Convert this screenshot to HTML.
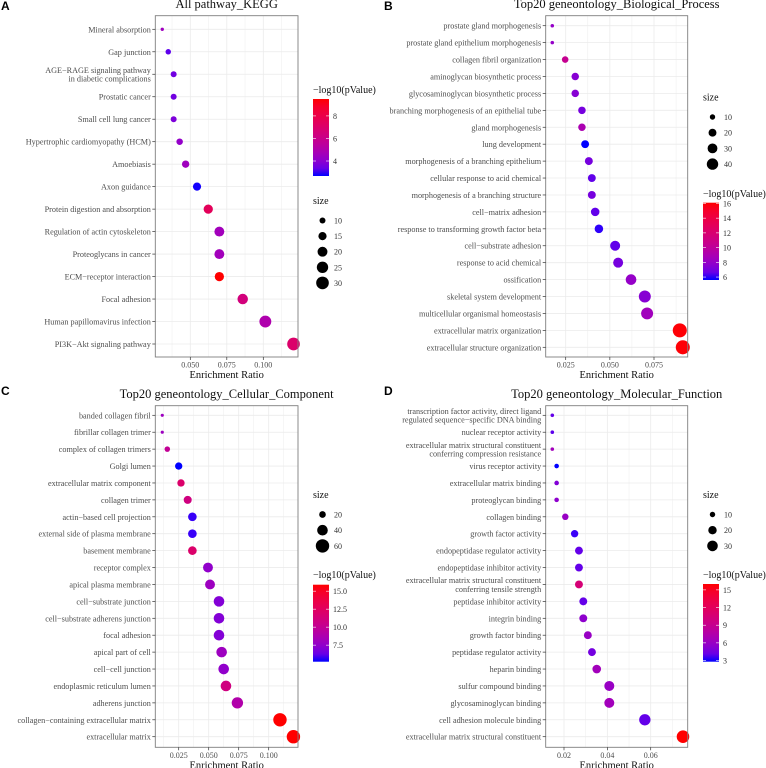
<!DOCTYPE html>
<html><head><meta charset="utf-8"><style>
html,body{margin:0;padding:0;background:#fff;}
svg{display:block;font-family:"Liberation Serif",serif;}
</style></head><body>
<svg id="fig" width="766" height="768" viewBox="0 0 766 768" xmlns="http://www.w3.org/2000/svg"></svg>
<script>
// ---------- Panel A data ----------
const A_terms = ["Mineral absorption","Gap junction","AGE\u2212RAGE signaling pathway\nin diabetic complications","Prostatic cancer","Small cell lung cancer","Hypertrophic cardiomyopathy (HCM)","Amoebiasis","Axon guidance","Protein digestion and absorption","Regulation of actin cytoskeleton","Proteoglycans in cancer","ECM\u2212receptor interaction","Focal adhesion","Human papillomavirus infection","PI3K\u2212Akt signaling pathway"];
const A_ratio = [0.0308,0.0349,0.0386,0.0386,0.0386,0.0427,0.0468,0.0546,0.0623,0.0699,0.0699,0.0699,0.0859,0.1014,0.1207];
const A_size = [6,9,10,10,10,11,13,15,18,20,20,18,22,27,30];
const A_logp = [4.5,3.2,3.5,3.5,3.7,4.2,4.5,2.7,7.5,4.6,4.6,9.5,6.5,5.0,7.0];
const A_xticks = [0.05,0.075,0.1];
const A_xlabels = ["0.050","0.075","0.100"];
const A_sizeLegend = [10,15,20,25,30];
const A_colorTicks = [4,6,8];

// ---------- Panel B data ----------
const B_terms = ["prostate gland morphogenesis","prostate gland epithelium morphogenesis","collagen fibril organization","aminoglycan biosynthetic process","glycosaminoglycan biosynthetic process","branching morphogenesis of an epithelial tube","gland morphogenesis","lung development","morphogenesis of a branching epithelium","cellular response to acid chemical","morphogenesis of a branching structure","cell\u2212matrix adhesion","response to transforming growth factor beta","cell\u2212substrate adhesion","response to acid chemical","ossification","skeletal system development","multicellular organismal homeostasis","extracellular matrix organization","extracellular structure organization"];
const B_ratio = [0.0174,0.0174,0.0247,0.0304,0.0304,0.0342,0.0342,0.0360,0.0381,0.0398,0.0398,0.0417,0.0438,0.0530,0.0547,0.0620,0.0698,0.0711,0.0896,0.0913];
const B_size = [5,5,14,18,18,18,18,20,20,20,20,23,23,31,31,35,44,44,60,60];
const B_logp = [8,8,10.5,7.5,7.5,7,9,5.6,7,6.5,7,6.5,5.8,6.5,7,8,7.5,8.5,16,16];
const B_xticks = [0.025,0.05,0.075];
const B_xlabels = ["0.025","0.050","0.075"];
const B_sizeLegend = [10,20,30,40];
const B_colorTicks = [6,8,10,12,14,16];

// ---------- Panel C data ----------
const C_terms = ["banded collagen fibril","fibrillar collagen trimer","complex of collagen trimers","Golgi lumen","extracellular matrix component","collagen trimer","actin\u2212based cell projection","external side of plasma membrane","basement membrane","receptor complex","apical plasma membrane","cell\u2212substrate junction","cell\u2212substrate adherens junction","focal adhesion","apical part of cell","cell\u2212cell junction","endoplasmic reticulum lumen","adherens junction","collagen\u2212containing extracellular matrix","extracellular matrix"];
const C_ratio = [0.0113,0.0113,0.0155,0.025,0.0269,0.0325,0.0364,0.0364,0.0364,0.0494,0.0511,0.0586,0.0586,0.0586,0.0608,0.0625,0.0644,0.0739,0.1094,0.1206];
const C_size = [10,10,16,23,23,26,29,29,29,36,36,40,40,40,40,40,40,45,60,60];
const C_logp = [8,8,10,5.2,12,11,5.5,5.5,12,7.5,8,7,7,7,8,7.5,11,9,16,16];
const C_xticks = [0.025,0.05,0.075,0.1];
const C_xlabels = ["0.025","0.050","0.075","0.100"];
const C_sizeLegend = [20,40,60];
const C_colorTicks = [7.5,10,12.5,15];

// ---------- Panel D data ----------
const D_terms = ["transcription factor activity, direct ligand\nregulated sequence\u2212specific DNA binding","nuclear receptor activity","extracellular matrix structural constituent\nconferring compression resistance","virus receptor activity","extracellular matrix binding","proteoglycan binding","collagen binding","growth factor activity","endopeptidase regulator activity","endopeptidase inhibitor activity","extracellular matrix structural constituent\nconferring tensile strength","peptidase inhibitor activity","integrin binding","growth factor binding","peptidase regulator activity","heparin binding","sulfur compound binding","glycosaminoglycan binding","cell adhesion molecule binding","extracellular matrix structural constituent"];
const D_ratio = [0.0146,0.0146,0.0146,0.0166,0.0166,0.0166,0.0206,0.0249,0.0269,0.0269,0.0269,0.0289,0.0289,0.0310,0.0329,0.0351,0.0409,0.0409,0.0573,0.0749];
const D_size = [6,6,6,8,8,8,13,16,18,18,18,18,18,18,18,21,27,27,34,41];
const D_logp = [4,3.8,6.5,2.8,5,5.5,6,3.2,4,4,10.5,4,5.5,6,4.5,6.5,6,6.5,4,16];
const D_xticks = [0.02,0.04,0.06];
const D_xlabels = ["0.02","0.04","0.06"];
const D_sizeLegend = [10,20,30];
const D_colorTicks = [3,6,9,12,15];

const NS = "http://www.w3.org/2000/svg";
const svg = document.getElementById('fig');
function mk(tag, attrs, parent){
  const e = document.createElementNS(NS, tag);
  for (const k in attrs) e.setAttribute(k, attrs[k]);
  (parent||svg).appendChild(e);
  return e;
}
// Lab interpolation blue->red (ggplot style)
function s2l(c){c/=255;return c<=0.04045?c/12.92:Math.pow((c+0.055)/1.055,2.4);}
function l2s(c){c=c<=0.0031308?12.92*c:1.055*Math.pow(c,1/2.4)-0.055;return Math.round(Math.max(0,Math.min(1,c))*255);}
function toLab(r,g,b){
  r=s2l(r);g=s2l(g);b=s2l(b);
  let x=(r*0.4124+g*0.3576+b*0.1805)/0.95047,y=r*0.2126+g*0.7152+b*0.0722,z=(r*0.0193+g*0.1192+b*0.9505)/1.08883;
  const f=t=>t>0.008856?Math.cbrt(t):7.787*t+16/116;
  x=f(x);y=f(y);z=f(z);
  return [116*y-16,500*(x-y),200*(y-z)];
}
function fromLab(L,a,b){
  let y=(L+16)/116,x=a/500+y,z=y-b/200;
  const fi=t=>t*t*t>0.008856?t*t*t:(t-16/116)/7.787;
  x=fi(x)*0.95047;y=fi(y);z=fi(z)*1.08883;
  const r=x*3.2406+y*-1.5372+z*-0.4986,g=x*-0.9689+y*1.8758+z*0.0415,bb=x*0.0557+y*-0.2040+z*1.0570;
  return "rgb("+l2s(r)+","+l2s(g)+","+l2s(bb)+")";
}
const LB=toLab(0,0,255), LR=toLab(255,0,0);
function colorAt(t){t=Math.max(0,Math.min(1,t));return fromLab(LB[0]+(LR[0]-LB[0])*t,LB[1]+(LR[1]-LB[1])*t,LB[2]+(LR[2]-LB[2])*t);}

let gid=0;
function panel(p){
  const g = mk('g',{});
  
  
  const xs = v => p.px0 + (v - p.xticks[0])/(p.xticks[p.xticks.length-1]-p.xticks[0])*(p.px1-p.px0);
  const n = p.terms.length;
  const ys = i => p.row0 + i*(p.rowN-p.row0)/(n-1);
  const rr = s => Math.sqrt(Math.max(0.5, p.rA + p.rB*s));
  const col = v => colorAt((v-p.cmin)/(p.cmax-p.cmin));
  // letter + title
  const L = mk('text',{x:p.letterX,y:p.letterY,'font-family':'Liberation Sans, sans-serif','font-weight':'bold','font-size':12},g);
  L.textContent=p.letter;  
  const T = mk('text',{x:(p.L+p.R)/2,y:p.titleY,'text-anchor':'middle','font-size':12.5,fill:'#111'},g);
  T.textContent=p.title;  
  // grid
  const step = p.xticks[1]-p.xticks[0];
  for (let v = p.xticks[0]-step*1.5; v <= p.xticks[p.xticks.length-1]+step*1.6; v += step/2){
    const x = xs(v); if (x<=p.L||x>=p.R) continue;
    const major = Math.abs(((v-p.xticks[0])/step) - Math.round((v-p.xticks[0])/step))<1e-6;
    const ln = mk('line',{x1:x,x2:x,y1:p.T,y2:p.B,stroke:'#ebebeb','stroke-width':major?0.8:0.45},g);
     
  }
  for (let i=0;i<n;i++){
    const ln = mk('line',{x1:p.L,x2:p.R,y1:ys(i),y2:ys(i),stroke:'#ebebeb','stroke-width':0.8},g);
     
  }
  // points
  for (let i=0;i<n;i++){
    const c = mk('circle',{cx:xs(p.ratio[i]),cy:ys(i),r:rr(p.size[i]),fill:col(p.logp[i])},g);
     
  }
  // clip overflow (ggplot clips at panel? no; draw border on top)
  const bd = mk('rect',{x:p.L,y:p.T,width:p.R-p.L,height:p.B-p.T,fill:'none',stroke:'#7f7f7f','stroke-width':0.9},g);
   
  // y labels
  for (let i=0;i<n;i++){
    const tk = mk('line',{x1:p.L-3,x2:p.L,y1:ys(i),y2:ys(i),stroke:'#333','stroke-width':0.7},g);
     
    const lines = p.terms[i].split("\n");
    const t = mk('text',{x:p.L-4.5,y:ys(i),'text-anchor':'end','font-size':8.2,fill:'#4d4d4d'},g);
     
    lines.forEach((s,k)=>{
      const ts = mk('tspan',{x:p.L-4.5,y:ys(i)+3+(k-(lines.length-1)/2)*8.6},t);
      ts.textContent=s;
    });
  }
  // x ticks
  p.xticks.forEach((v,k)=>{
    const x=xs(v);
    const tk = mk('line',{x1:x,x2:x,y1:p.B,y2:p.B+3,stroke:'#333','stroke-width':0.7},g);
     
    const t = mk('text',{x:x,y:p.B+10.5,'text-anchor':'middle','font-size':8,fill:'#4d4d4d'},g);
    t.textContent=p.xlabels[k];  
  });
  const xt = mk('text',{x:(p.L+p.R)/2,y:p.B+21,'text-anchor':'middle','font-size':10.5,fill:'#111'},g);
  xt.textContent='Enrichment Ratio';  
  // color legend
  const id='grad'+(gid++);
  const defs = mk('defs',{},g);
  const lg = mk('linearGradient',{id:id,x1:0,y1:1,x2:0,y2:0},defs);
  for (let k=0;k<=10;k++){ mk('stop',{offset:(k*10)+'%','stop-color':colorAt(k/10)},lg); }
  const ct = mk('text',{x:p.legX,y:p.cTitleY,'font-size':10,fill:'#111'},g);
  ct.textContent='\u2212log10(pValue)';  
  const cb = mk('rect',{x:p.legX,y:p.cbTop,width:16,height:p.cbBot-p.cbTop,fill:'url(#'+id+')'},g);
   
  const cy = v => p.cbBot - (v-p.cmin)/(p.cmax-p.cmin)*(p.cbBot-p.cbTop);
  p.cticks.forEach(v=>{
    mk('line',{x1:p.legX,x2:p.legX+3,y1:cy(v),y2:cy(v),stroke:'#fff','stroke-width':0.6},g);
    mk('line',{x1:p.legX+13,x2:p.legX+16,y1:cy(v),y2:cy(v),stroke:'#fff','stroke-width':0.6},g);
    const t = mk('text',{x:p.legX+20,y:cy(v)+3,'font-size':8,fill:'#333'},g);
    t.textContent = (p.cdec? v.toFixed(1): String(v));  
  });
  // size legend
  const st = mk('text',{x:p.legX,y:p.sTitleY,'font-size':10,fill:'#111'},g);
  st.textContent='size';  
  p.sizeLeg.forEach((s,k)=>{
    const y = p.sTitleY+16.5+k*p.sStep;
    const c = mk('circle',{cx:p.legX+9.5,cy:y,r:rr(s),fill:'#000'},g);
     
    const t = mk('text',{x:p.legX+21,y:y+3,'font-size':8,fill:'#333'},g);
    t.textContent=String(s);  
  });
}

panel({name:'panel-a-kegg',letter:'A',letterX:1,letterY:10,title:'All pathway_KEGG',titleY:8,
  terms:A_terms,ratio:A_ratio,size:A_size,logp:A_logp,xticks:A_xticks,xlabels:A_xlabels,
  L:155.3,R:298,T:15.7,B:357,row0:29.3,rowN:344,px0:190.3,px1:263.3,rA:-6.5,rB:1.55,
  cmin:2.67,cmax:9.5,cticks:A_colorTicks,legX:313,cTitleY:93,cbTop:99,cbBot:176,
  sizeLeg:A_sizeLegend,sTitleY:204,sStep:15.6});
panel({name:'panel-b-biological-process',letter:'B',letterX:384,letterY:10,title:'Top20 geneontology_Biological_Process',titleY:8,
  terms:B_terms,ratio:B_ratio,size:B_size,logp:B_logp,xticks:B_xticks,xlabels:B_xlabels,
  L:545.7,R:687.7,T:15.7,B:357,row0:25.7,rowN:347.3,px0:565.7,px1:654,rA:-1.1,rB:0.84,
  cmin:5.6,cmax:16.1,cticks:B_colorTicks,legX:703,cTitleY:197,cbTop:202.7,cbBot:280,
  sizeLeg:B_sizeLegend,sTitleY:100.5,sStep:15.7});
panel({name:'panel-c-cellular-component',letter:'C',letterX:1,letterY:395,title:'Top20 geneontology_Cellular_Component',titleY:398,
  terms:C_terms,ratio:C_ratio,size:C_size,logp:C_logp,xticks:C_xticks,xlabels:C_xlabels,
  L:155.3,R:298,T:405.7,B:747.3,row0:415.3,rowN:736.7,px0:178.7,px1:268.7,rA:-6,rB:0.85,
  cmin:5.2,cmax:15.9,cticks:C_colorTicks,cdec:true,legX:313,cTitleY:578,cbTop:584.7,cbBot:661.7,
  sizeLeg:C_sizeLegend,sTitleY:498,sStep:15.7});
panel({name:'panel-d-molecular-function',letter:'D',letterX:384,letterY:395,title:'Top20 geneontology_Molecular_Function',titleY:398,
  terms:D_terms,ratio:D_ratio,size:D_size,logp:D_logp,xticks:D_xticks,xlabels:D_xlabels,
  L:545.7,R:687.7,T:405.7,B:747.3,row0:415.3,rowN:736.7,px0:564,px1:650.7,rA:-3,rB:1.035,
  cmin:2.8,cmax:16,cticks:D_colorTicks,legX:703,cTitleY:578,cbTop:584,cbBot:661.7,
  sizeLeg:D_sizeLegend,sTitleY:498,sStep:15.7});
</script>
</body></html>
